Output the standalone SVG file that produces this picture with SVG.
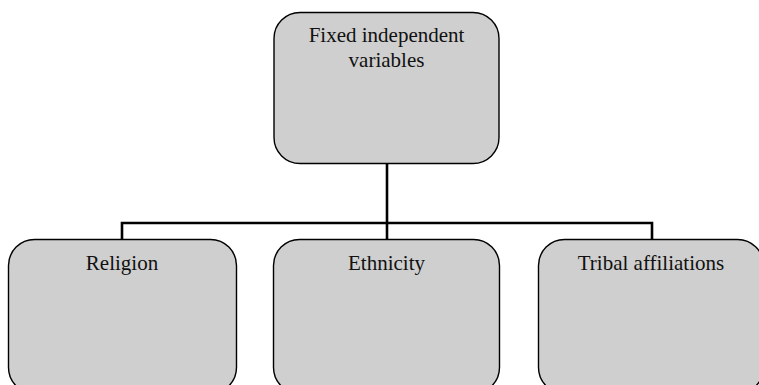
<svg xmlns="http://www.w3.org/2000/svg" width="759" height="385" viewBox="0 0 759 385">
  <style>
    .box { fill: #cfcfcf; stroke: #000; stroke-width: 1.4; }
    .label { font-family: "Liberation Serif", "Times New Roman", serif; font-size: 21px; fill: #111; text-anchor: middle; }
    .link { fill: none; stroke: #000; stroke-width: 2.6; }
  </style>
  <rect width="759" height="385" fill="#fff"/>

  <g id="connectors">
    <line class="link" x1="387" y1="163" x2="387" y2="239"/>
    <polyline class="link" points="122,239 122,223 652,223 652,239"/>
  </g>

  <g id="fixed-independent-variables">
    <rect class="box" x="274" y="12.5" width="225" height="151" rx="26" ry="26"/>
    <text class="label" x="386.5" y="42">Fixed independent</text>
    <text class="label" x="386.5" y="67">variables</text>
  </g>

  <g id="religion">
    <rect class="box" x="8.5" y="239.5" width="228" height="154" rx="26" ry="26"/>
    <text class="label" x="122" y="270">Religion</text>
  </g>

  <g id="ethnicity">
    <rect class="box" x="273.5" y="239.5" width="226" height="154" rx="26" ry="26"/>
    <text class="label" x="386.5" y="270">Ethnicity</text>
  </g>

  <g id="tribal-affiliations">
    <rect class="box" x="538.5" y="239.5" width="225" height="154" rx="26" ry="26"/>
    <text class="label" x="651" y="270">Tribal affiliations</text>
  </g>
</svg>
